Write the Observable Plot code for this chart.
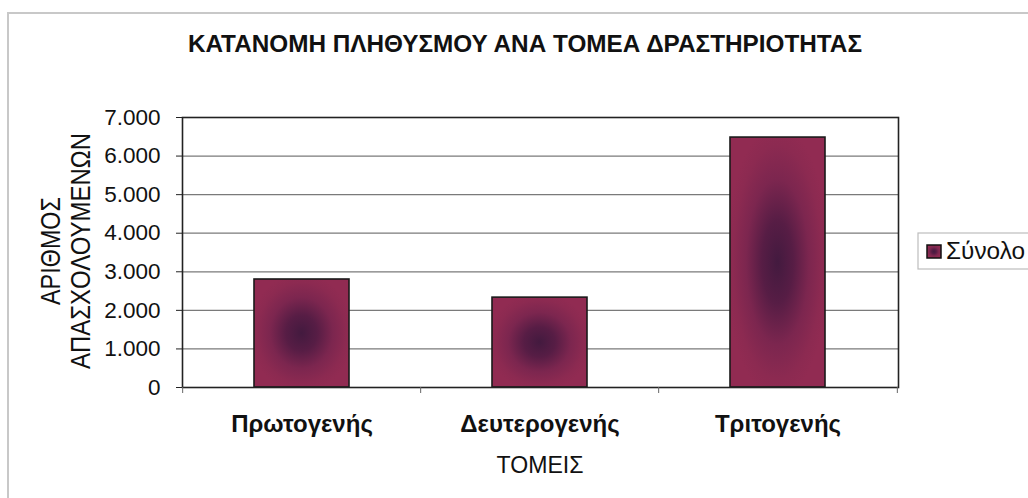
<!DOCTYPE html>
<html>
<head>
<meta charset="utf-8">
<script src="https://cdn.jsdelivr.net/npm/d3@7"></script>
<script src="https://cdn.jsdelivr.net/npm/@observablehq/plot@0.6"></script>
<style>
  html, body { margin: 0; padding: 0; background: #fff; }
  #chart { width: 1028px; height: 498px; }
</style>
</head>
<body>
<div id="chart"></div>
<script>
const title = "ΚΑΤΑΝΟΜΗ ΠΛΗΘΥΣΜΟΥ ΑΝΑ ΤΟΜΕΑ ΔΡΑΣΤΗΡΙΟΤΗΤΑΣ";
const categories = ["Πρωτογενής", "Δευτερογενής", "Τριτογενής"];
const values = [2800, 2330, 6480];
const seriesName = "Σύνολο";
const yTicks = [0, 1000, 2000, 3000, 4000, 5000, 6000, 7000];
const yLabelLines = ["ΑΡΙΘΜΟΣ", "ΑΠΑΣΧΟΛΟΥΜΕΝΩΝ"];
const xLabel = "ΤΟΜΕΙΣ";

const data = categories.map((c, i) => ({ category: c, value: values[i] }));
const fmt = d => d === 0 ? "0" : d3.format(",")(d).replace(/,/g, ".");

const W = 1028, H = 498;
const mL = 182, mR = 130, mT = 117, mB = 111;
const step = (W - mL - mR) / categories.length;

const plot = Plot.plot({
  width: W,
  height: H,
  marginLeft: mL,
  marginRight: mR,
  marginTop: mT,
  marginBottom: mB,
  style: { fontFamily: "'Liberation Sans', Arial, sans-serif", background: "#fff", color: "#111" },
  x: { domain: categories, paddingInner: 0.6, paddingOuter: 0.3, label: null },
  y: { domain: [0, 7000], label: null },
  marks: [
    Plot.gridY(yTicks.filter(d => d > 0 && d < 7000), { stroke: "#7a7a7a", strokeOpacity: 1, strokeWidth: 1.2 }),
    Plot.barY(data, { x: "category", y: "value", fill: "url(#barGrad)", stroke: "#1a1a1a", strokeWidth: 1.6 }),
    Plot.frame({ stroke: "#222", strokeWidth: 1.6 }),
    Plot.axisY(yTicks, { tickSize: 6, tickPadding: 16, tickFormat: fmt, fontSize: 22.5, stroke: "#222", label: null }),
    Plot.axisX(categories, { tickSize: 0, tickPadding: 27, fontSize: 24, fontWeight: "bold", label: null }),
    Plot.axisX(categories, { tickSize: 6, dx: -step / 2, text: null, stroke: "#666", label: null }),
    Plot.axisX(categories.slice(-1), { tickSize: 6, dx: step / 2, text: null, stroke: "#666", label: null })
  ]
});

const svg = d3.select(plot);
const defs = svg.insert("defs", ":first-child");
const g = defs.append("radialGradient").attr("id", "barGrad").attr("cx", "0.5").attr("cy", "0.5").attr("r", "0.55");
[[0, "#431a3f"], [0.3, "#571d45"], [0.6, "#7c264f"], [0.85, "#8c2a51"], [1, "#912b52"]].forEach(([o, c]) =>
  g.append("stop").attr("offset", o).attr("stop-color", c));

// outer chart border
svg.insert("rect", ":first-child")
  .attr("x", 8).attr("y", 13).attr("width", 1100).attr("height", 600)
  .attr("fill", "#fff").attr("stroke", "#c8c8c8").attr("stroke-width", 2);

// title
svg.append("text")
  .attr("x", 525).attr("y", 52)
  .attr("text-anchor", "middle")
  .attr("font-size", 23).attr("font-weight", "bold")
  .attr("textLength", 674).attr("lengthAdjust", "spacingAndGlyphs")
  .attr("fill", "#111")
  .text(title);

// y label (two rotated lines)
const yl = [{ x: 60, len: 108 }, { x: 90, len: 236 }];
yLabelLines.forEach((t, i) => {
  svg.append("text")
    .attr("transform", `translate(${yl[i].x},251) rotate(-90)`)
    .attr("text-anchor", "middle")
    .attr("font-size", 28)
    .attr("font-family", "'Liberation Sans Narrow', 'Arial Narrow', 'Liberation Sans', sans-serif")
    .attr("textLength", yl[i].len).attr("lengthAdjust", "spacingAndGlyphs")
    .attr("fill", "#111")
    .text(t);
});

// x label
svg.append("text")
  .attr("x", 540).attr("y", 473)
  .attr("text-anchor", "middle")
  .attr("font-size", 24)
  .attr("textLength", 87).attr("lengthAdjust", "spacingAndGlyphs")
  .attr("fill", "#111")
  .text(xLabel);

// legend
const lg = svg.append("g");
lg.append("rect").attr("x", 918).attr("y", 233).attr("width", 140).attr("height", 36)
  .attr("fill", "#fff").attr("stroke", "#bdbdbd").attr("stroke-width", 1.2);
lg.append("rect").attr("x", 927).attr("y", 245).attr("width", 14).attr("height", 13)
  .attr("fill", "url(#barGrad)").attr("stroke", "#111").attr("stroke-width", 1.5);
lg.append("text").attr("x", 946).attr("y", 259)
  .attr("text-anchor", "start")
  .attr("font-size", 23).attr("fill", "#111")
  .attr("textLength", 79).attr("lengthAdjust", "spacingAndGlyphs")
  .text(seriesName);

document.getElementById("chart").appendChild(plot);
</script>
</body>
</html>
